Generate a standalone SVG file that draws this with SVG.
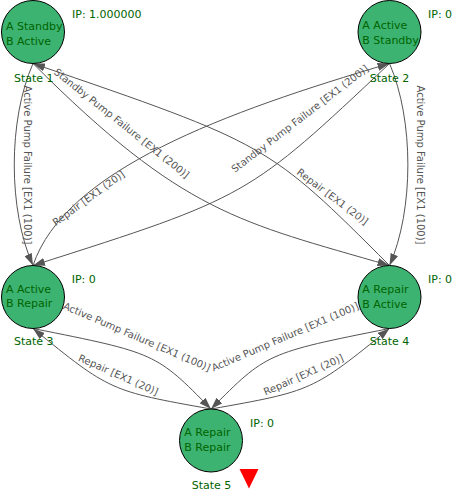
<svg xmlns="http://www.w3.org/2000/svg" width="456" height="490" viewBox="0 0 456 490">
<defs>
<style>
.node circle{fill:#3cb371;stroke:#000;stroke-width:1}
.nt{font-family:"DejaVu Sans",Verdana,sans-serif;font-size:11px;fill:#006400}
.edge{fill:none;stroke:#555;stroke-width:1;marker-end:url(#arr)}
.el{font-family:"DejaVu Sans",Verdana,sans-serif;font-size:10px;fill:#555;text-anchor:middle}
</style>
<marker id="arr" markerWidth="12" markerHeight="8" refX="12" refY="4" orient="auto" markerUnits="userSpaceOnUse">
<path d="M0,0 L12,4 L0,8 z" fill="#555"/>
</marker>
</defs>
<rect width="456" height="490" fill="#fff"/>
<g id="connectors">
<path class="edge" d="M33,63.5 C8,120 8,210 33,265.5"/>
<path class="edge" d="M389.5,63.5 C414,120 414,210 389.5,265.5"/>
<path class="edge" d="M33,63.5 C183,213.5 239.5,222 389.5,265.5"/>
<path class="edge" d="M389.5,63.5 C248,197 248,197 33,265.5"/>
<path class="edge" d="M33,265.5 C65,170 225,112 389.5,63.5"/>
<path class="edge" d="M389.5,265.5 C268,144 268,144 33,63.5"/>
<path class="edge" d="M33,328.5 C156,353 156,353 211,409"/>
<path class="edge" d="M211,409 C110,391 110,391 33,328.5"/>
<path class="edge" d="M389.5,328.5 C266.5,353 266.5,353 211,409"/>
<path class="edge" d="M211,409 C312.5,391 312.5,391 389.5,328.5"/>
<text class="el" transform="translate(23.5,165) rotate(90)">Active Pump Failure [EX1 (100)]</text>
<text class="el" transform="translate(417,165) rotate(90)">Active Pump Failure [EX1 (100)]</text>
<text class="el" transform="translate(119.5,126) rotate(38.5)">Standby Pump Failure [EX1 (200)]</text>
<text class="el" transform="translate(302,121.5) rotate(-37.5)">Standby Pump Failure [EX1 (200)]</text>
<text class="el" transform="translate(90.6,201) rotate(-36)">Repair [EX1 (20)]</text>
<text class="el" transform="translate(330.5,199.5) rotate(37)">Repair [EX1 (20)]</text>
<text class="el" transform="translate(135.5,340) rotate(23.3)">Active Pump Failure [EX1 (100)]</text>
<text class="el" transform="translate(117,378) rotate(24)">Repair [EX1 (20)]</text>
<text class="el" transform="translate(286.5,340) rotate(-23.3)">Active Pump Failure [EX1 (100)]</text>
<text class="el" transform="translate(305,378) rotate(-24)">Repair [EX1 (20)]</text>
</g>
<g id="state1" class="node">
<circle cx="33" cy="32" r="31.5"/>
<text class="nt" x="6" y="29.8">A Standby</text>
<text class="nt" x="6" y="44.8">B Active</text>
<text class="nt" x="72" y="18.3">IP: 1.000000</text>
<text class="nt" x="14" y="81.5">State 1</text>
</g>
<g id="state2" class="node">
<circle cx="389.5" cy="32" r="31.5"/>
<text class="nt" x="362.3" y="29.2">A Active</text>
<text class="nt" x="362.3" y="43.8">B Standby</text>
<text class="nt" x="428" y="18.3">IP: 0</text>
<text class="nt" x="369.7" y="81.5">State 2</text>
</g>
<g id="state3" class="node">
<circle cx="33" cy="297" r="31.5"/>
<text class="nt" x="6" y="292.7">A Active</text>
<text class="nt" x="6" y="307.3">B Repair</text>
<text class="nt" x="71.7" y="282.7">IP: 0</text>
<text class="nt" x="14" y="345">State 3</text>
</g>
<g id="state4" class="node">
<circle cx="389.5" cy="297" r="31.5"/>
<text class="nt" x="362.3" y="293">A Repair</text>
<text class="nt" x="362.3" y="307.5">B Active</text>
<text class="nt" x="428" y="282.7">IP: 0</text>
<text class="nt" x="369.7" y="344.5">State 4</text>
</g>
<g id="state5" class="node">
<circle cx="211" cy="440.5" r="31.5"/>
<text class="nt" x="184.3" y="436">A Repair</text>
<text class="nt" x="184.3" y="451">B Repair</text>
<text class="nt" x="250" y="426.7">IP: 0</text>
<text class="nt" x="191.7" y="488.5">State 5</text>
<polygon points="239.5,469 258.5,469 249,488.5" fill="#ff0000"/>
</g>
</svg>
